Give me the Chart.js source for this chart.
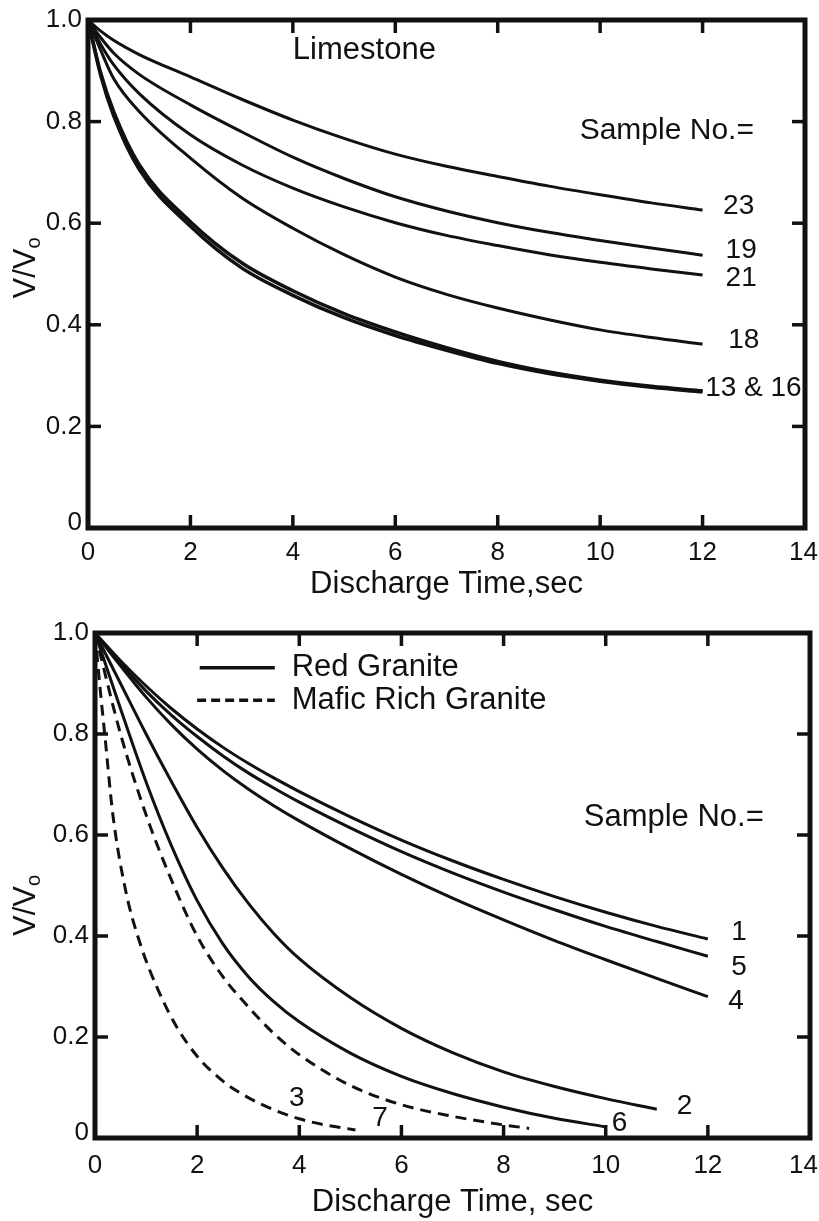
<!DOCTYPE html>
<html>
<head>
<meta charset="utf-8">
<title>Discharge curves</title>
<script src="https://cdn.jsdelivr.net/npm/chart.js@4.4.1/dist/chart.umd.min.js"></script>
<style>
  html, body { margin: 0; padding: 0; background: #fff; }
  canvas { display: block; }
</style>
</head>
<body>
<canvas id="limestone" width="819" height="610"></canvas>
<canvas id="granite" width="819" height="611"></canvas>
<script>
// ---------------- DATA: LIMESTONE ----------------
const limeTime = [0, 0.25, 0.5, 1, 2, 3, 4, 5, 6, 7, 8, 9, 10, 11, 12];
const lime23 = [1, 0.978, 0.96, 0.932, 0.888, 0.844, 0.803, 0.767, 0.736, 0.712, 0.692, 0.673, 0.656, 0.64, 0.626];
const lime19 = [1, 0.965, 0.935, 0.893, 0.833, 0.78, 0.73, 0.688, 0.652, 0.624, 0.601, 0.582, 0.566, 0.551, 0.537];
const lime21 = [1, 0.952, 0.912, 0.855, 0.774, 0.715, 0.669, 0.632, 0.601, 0.576, 0.556, 0.538, 0.523, 0.51, 0.498];
const lime18 = [1, 0.94, 0.885, 0.82, 0.728, 0.65, 0.59, 0.538, 0.494, 0.46, 0.433, 0.41, 0.39, 0.375, 0.362];
const lime13 = [1, 0.895, 0.82, 0.715, 0.603, 0.522, 0.467, 0.422, 0.386, 0.355, 0.328, 0.307, 0.291, 0.279, 0.27];
const lime16 = [1, 0.89, 0.812, 0.706, 0.594, 0.512, 0.458, 0.414, 0.379, 0.35, 0.324, 0.304, 0.289, 0.277, 0.268];

// ---------------- DATA: GRANITE ----------------
const graniteTime = [0, 0.5, 1, 1.5, 2, 2.5, 3, 3.5, 4, 5, 6, 7, 8, 9, 10, 11, 12];
const red1 = [1, 0.945, 0.895, 0.85, 0.81, 0.774, 0.742, 0.713, 0.686, 0.636, 0.59, 0.549, 0.512, 0.478, 0.447, 0.419, 0.394];
const red5 = [1, 0.94, 0.885, 0.837, 0.795, 0.757, 0.723, 0.693, 0.665, 0.614, 0.567, 0.525, 0.487, 0.452, 0.419, 0.389, 0.36];
const red4 = [1, 0.935, 0.873, 0.818, 0.77, 0.728, 0.691, 0.658, 0.628, 0.573, 0.522, 0.475, 0.432, 0.391, 0.353, 0.316, 0.28];
const red2Time = [0, 0.5, 1, 1.5, 2, 2.5, 3, 3.5, 4, 5, 6, 7, 8, 9, 10, 11];
const red2 = [1, 0.9, 0.8, 0.705, 0.615, 0.535, 0.465, 0.405, 0.355, 0.278, 0.217, 0.169, 0.131, 0.102, 0.078, 0.057];
const red6Time = [0, 0.5, 1, 1.5, 2, 2.5, 3, 3.5, 4, 5, 6, 7, 8, 9, 10];
const red6 = [1, 0.85, 0.705, 0.578, 0.47, 0.385, 0.32, 0.27, 0.23, 0.168, 0.122, 0.088, 0.061, 0.039, 0.022];
const mafic7Time = [0, 0.5, 1, 1.5, 2, 2.5, 3, 3.5, 4, 5, 6, 7, 8, 8.5];
const mafic7 = [1, 0.8, 0.64, 0.51, 0.4, 0.32, 0.26, 0.207, 0.165, 0.104, 0.066, 0.043, 0.026, 0.019];
const mafic3Time = [0, 0.1, 0.2, 0.35, 0.6, 0.9, 1.25, 1.6, 2, 2.5, 3, 3.5, 4, 4.5, 5.1];
const mafic3 = [1, 0.89, 0.79, 0.64, 0.49, 0.38, 0.29, 0.22, 0.162, 0.113, 0.08, 0.056, 0.038, 0.026, 0.016];

// ---------------- AXES ----------------
const xMax = 14;
const xStep = 2;
const yTickLabels = { 0: '0', 0.2: '0.2', 0.4: '0.4', 0.6: '0.6', 0.8: '0.8', 1: '1.0' };

const INK = '#111';
const FONT = "'Liberation Sans', Arial, sans-serif";

const toPoints = (xs, ys) => xs.map((x, i) => ({ x, y: ys[i] }));

function curve(label, xs, ys, dashed, width) {
  return {
    label,
    data: toPoints(xs, ys),
    borderColor: INK,
    borderWidth: width || 3,
    borderDash: dashed ? [11, 7] : [],
    pointRadius: 0,
    fill: false,
    cubicInterpolationMode: 'monotone'
  };
}

// frame, inward ticks, tick labels, axis titles and annotations
const framePlugin = {
  id: 'frame',
  afterDatasetsDraw(chart, args, opts) {
    const { ctx, chartArea: a, scales: { x, y } } = chart;
    const line = (x1, y1, x2, y2) => { ctx.beginPath(); ctx.moveTo(x1, y1); ctx.lineTo(x2, y2); ctx.stroke(); };
    ctx.save();
    ctx.strokeStyle = INK;
    ctx.fillStyle = INK;
    ctx.lineWidth = 5;
    ctx.strokeRect(a.left, a.top, a.right - a.left, a.bottom - a.top);

    ctx.lineWidth = 3.5;
    x.ticks.forEach(t => {
      if (t.value <= 0 || t.value >= xMax) return;
      const px = x.getPixelForValue(t.value);
      line(px, a.bottom, px, a.bottom - 13);
      line(px, a.top, px, a.top + 13);
    });
    y.ticks.forEach(t => {
      if (t.value <= 0 || t.value >= 1) return;
      const py = y.getPixelForValue(t.value);
      line(a.left, py, a.left + 13, py);
      line(a.right, py, a.right - 13, py);
    });

    // tick labels
    ctx.font = `26px ${FONT}`;
    ctx.textBaseline = 'middle';
    ctx.textAlign = 'center';
    x.ticks.forEach(t => {
      const w = ctx.measureText(String(t.value)).width;
      const px = Math.min(x.getPixelForValue(t.value), chart.width - w / 2 - 1);
      ctx.fillText(String(t.value), px, a.bottom + opts.xLabelGap);
    });
    ctx.textAlign = 'right';
    y.ticks.forEach(t => {
      const key = Math.round(t.value * 10) / 10;
      const py = y.getPixelForValue(t.value) + (t.value === 0 ? -5 : 0);
      ctx.fillText(yTickLabels[key], a.left - 6, py);
    });

    // x title
    ctx.font = `31px ${FONT}`;
    ctx.textAlign = 'center';
    ctx.fillText(opts.xTitle, (a.left + a.right) / 2, a.bottom + opts.xTitleGap);

    // y title V/Vo with subscript
    ctx.save();
    ctx.translate(26, (a.top + a.bottom) / 2 + opts.yTitleShift);
    ctx.rotate(-Math.PI / 2);
    ctx.font = `31px ${FONT}`;
    const main = 'V/V';
    const wMain = ctx.measureText(main).width;
    ctx.font = `20px ${FONT}`;
    const wSub = ctx.measureText('o').width;
    const start = -(wMain + wSub) / 2;
    ctx.textAlign = 'left';
    ctx.font = `31px ${FONT}`;
    ctx.fillText(main, start, 0);
    ctx.font = `20px ${FONT}`;
    ctx.fillText('o', start + wMain, 8);
    ctx.restore();

    // annotations in data coordinates
    (opts.notes || []).forEach(n => {
      ctx.font = `${n.size}px ${FONT}`;
      ctx.textAlign = 'left';
      ctx.fillText(n.text, x.getPixelForValue(n.t), y.getPixelForValue(n.v));
    });

    // legend swatches
    (opts.legend || []).forEach(l => {
      const vy = y.getPixelForValue(l.v);
      ctx.lineWidth = 3.5;
      ctx.setLineDash(l.dashed ? [9, 5] : []);
      line(x.getPixelForValue(l.t0), vy, x.getPixelForValue(l.t1), vy);
      ctx.setLineDash([]);
      ctx.font = `31px ${FONT}`;
      ctx.textAlign = 'left';
      ctx.fillText(l.text, x.getPixelForValue(l.tText), vy);
    });
    ctx.restore();
  }
};

function makeChart(id, datasets, box, frameOpts) {
  return new Chart(document.getElementById(id), {
    type: 'line',
    data: { datasets },
    options: {
      responsive: false,
      animation: false,
      events: [],
      layout: { autoPadding: false, padding: { left: 0, top: box.top, right: box.right, bottom: 0 } },
      plugins: { legend: { display: false }, tooltip: { enabled: false }, frame: frameOpts },
      scales: {
        x: {
          type: 'linear', min: 0, max: xMax,
          ticks: { stepSize: xStep, display: false },
          grid: { display: false }, border: { display: false },
          afterFit: s => { s.height = box.xHeight; }
        },
        y: {
          type: 'linear', min: 0, max: 1,
          ticks: { stepSize: 0.2, display: false },
          grid: { display: false }, border: { display: false },
          afterFit: s => { s.width = box.left; }
        }
      }
    },
    plugins: [framePlugin]
  });
}

makeChart('limestone', [
  curve('23', limeTime, lime23),
  curve('19', limeTime, lime19),
  curve('21', limeTime, lime21),
  curve('18', limeTime, lime18),
  curve('13', limeTime, lime13, false, 3.5),
  curve('16', limeTime, lime16, false, 3.5)
], { left: 88, top: 20, right: 14, xHeight: 82 }, {
  xTitle: 'Discharge Time,sec', xLabelGap: 25, xTitleGap: 56, yTitleShift: -6,
  notes: [
    { text: 'Limestone', t: 4.0, v: 0.94, size: 31 },
    { text: 'Sample No.=', t: 9.6, v: 0.783, size: 30 },
    { text: '23', t: 12.4, v: 0.634, size: 28 },
    { text: '19', t: 12.45, v: 0.547, size: 28 },
    { text: '21', t: 12.45, v: 0.492, size: 28 },
    { text: '18', t: 12.5, v: 0.37, size: 28 },
    { text: '13 & 16', t: 12.05, v: 0.276, size: 28 }
  ]
});

makeChart('granite', [
  curve('1', graniteTime, red1),
  curve('5', graniteTime, red5),
  curve('4', graniteTime, red4),
  curve('2', red2Time, red2),
  curve('6', red6Time, red6),
  curve('7', mafic7Time, mafic7, true),
  curve('3', mafic3Time, mafic3, true)
], { left: 95, top: 23, right: 9, xHeight: 83 }, {
  xTitle: 'Discharge Time, sec', xLabelGap: 28, xTitleGap: 64, yTitleShift: 20,
  notes: [
    { text: 'Sample No.=', t: 9.57, v: 0.634, size: 31 },
    { text: '1', t: 12.46, v: 0.408, size: 28 },
    { text: '5', t: 12.46, v: 0.339, size: 28 },
    { text: '4', t: 12.4, v: 0.271, size: 28 },
    { text: '2', t: 11.39, v: 0.063, size: 28 },
    { text: '6', t: 10.12, v: 0.03, size: 28 },
    { text: '7', t: 5.43, v: 0.04, size: 28 },
    { text: '3', t: 3.8, v: 0.079, size: 28 }
  ],
  legend: [
    { text: 'Red Granite', t0: 2.05, t1: 3.52, tText: 3.85, v: 0.931, dashed: false },
    { text: 'Mafic Rich Granite', t0: 2.0, t1: 3.52, tText: 3.85, v: 0.867, dashed: true }
  ]
});
</script>
</body>
</html>
